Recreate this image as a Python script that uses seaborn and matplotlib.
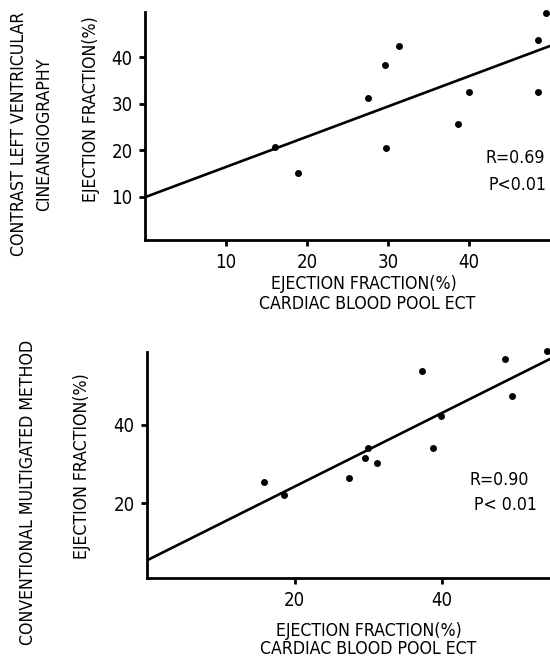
import numpy as np
import pandas as pd
import matplotlib
matplotlib.use("Agg")
import matplotlib.pyplot as plt
from matplotlib import font_manager as fm
import seaborn as sns

# ---- data ----
top_x = [16.0, 18.9, 27.5, 29.6, 31.4, 29.8, 38.7, 40.0, 48.5, 48.5, 49.5]
top_y = [20.6, 15.2, 31.2, 38.4, 42.4, 20.5, 25.7, 32.4, 43.6, 32.6, 49.5]
top_intercept = 9.9
top_slope = 0.65
top_xticks = [10, 20, 30, 40]
top_yticks = [10, 20, 30, 40]
top_stats = ["R=0.69", "P<0.01"]

bot_x = [15.8, 18.6, 27.4, 29.5, 29.9, 31.1, 37.2, 38.7, 39.8, 48.5, 49.4, 54.2]
bot_y = [25.4, 22.1, 26.4, 31.5, 34.1, 30.3, 53.6, 34.1, 42.3, 56.6, 47.4, 58.8]
bot_intercept = 5.4
bot_slope = 0.94
bot_xticks = [20, 40]
bot_yticks = [20, 40]
bot_stats = ["R=0.90", "P< 0.01"]

axis_label = "EJECTION FRACTION(%)"
x_label2 = "CARDIAC BLOOD POOL ECT"
top_group = ["CONTRAST LEFT VENTRICULAR", "CINEANGIOGRAPHY"]
bot_group = "CONVENTIONAL MULTIGATED METHOD"

sns.set_theme(style="ticks")
plt.rcParams['font.family'] = ['DejaVu Sans']

# look for a condensed / narrow face
def _is_regular(f):
    w = f.weight
    try:
        w = int(w)
    except Exception:
        w = 400 if str(w).lower() in ("normal", "regular", "book") else 700
    return f.style == "normal" and 300 <= w <= 500

cands = []
for f in fm.fontManager.ttflist:
    key = (f.name + " " + f.fname).lower()
    if ("narrow" in key or "condensed" in key) and _is_regular(f) \
            and "mono" not in key and "serif" not in f.name.lower().replace("sans", ""):
        cands.append(f)
if cands:
    cands.sort(key=lambda f: (0 if "sans" in f.name.lower() else 1, f.name))
    base_fp = fm.FontProperties(fname=cands[0].fname)
else:
    base_fp = fm.FontProperties(family="DejaVu Sans")

W, H = 550, 663
fig = plt.figure(figsize=(W / 100, H / 100), dpi=100)
renderer = fig.canvas.get_renderer()

def fx(px):
    return px / W

def fy(py):
    return 1 - py / H

# one common text size, chosen so the axis label spans ~186 px
probe = base_fp.copy(); probe.set_size(13)
tt = fig.text(0, 0, axis_label, fontproperties=probe)
FS = 13 * 186 / tt.get_window_extent(renderer).width
tt.remove()

def fp_sized(size):
    p = base_fp.copy(); p.set_size(size)
    return p

def put(px, py, s, rotation=0, ha="center"):
    return fig.text(fx(px), fy(py), s, rotation=rotation, ha=ha, va="center",
                    fontproperties=fp_sized(FS), color="black")

ax1 = fig.add_axes([fx(145), fy(240), fx(550 - 145), (240 - 12) / H])
ax2 = fig.add_axes([fx(147), fy(578), fx(550 - 147), (578 - 352) / H])

def style(ax, xs, ys, b0, b1, xlim, ylim, xticks, yticks):
    df = pd.DataFrame({"x": xs, "y": ys})
    sns.scatterplot(data=df, x="x", y="y", ax=ax, color="black", s=25,
                    edgecolor="black", linewidth=0, zorder=3, clip_on=False)
    ax.axline((0, b0), slope=b1, color="black", lw=1.9, zorder=2)
    ax.set_xlim(*xlim)
    ax.set_ylim(*ylim)
    ax.set_xticks(xticks)
    ax.set_yticks(yticks)
    ax.set_xlabel("")
    ax.set_ylabel("")
    for s in ["top", "right"]:
        ax.spines[s].set_visible(False)
    for s in ["left", "bottom"]:
        ax.spines[s].set_linewidth(2.0)
        ax.spines[s].set_color("black")
    ax.tick_params(axis="both", direction="out", length=4, width=2,
                   colors="black", pad=5)
    tfp = fp_sized(FS * 1.05)
    for lab in ax.get_xticklabels() + ax.get_yticklabels():
        lab.set_fontproperties(tfp)

style(ax1, top_x, top_y, top_intercept, top_slope, (0, 50), (0.7, 49.7),
      top_xticks, top_yticks)
style(ax2, bot_x, bot_y, bot_intercept, bot_slope, (0, 54.6), (0.9, 58.5),
      bot_xticks, bot_yticks)

# stats text
put(545, 158, top_stats[0], ha="right")
put(547, 185, top_stats[1], ha="right")
put(529, 480, bot_stats[0], ha="right")
put(537, 505, bot_stats[1], ha="right")

# x labels
put(364, 284, axis_label)
put(367, 304, x_label2)
put(369, 631, axis_label)
put(368, 649, x_label2)

# y labels
put(91, 109, axis_label, rotation=90)
put(19, 134, top_group[0], rotation=90)
put(44, 134, top_group[1], rotation=90)
put(82, 466, axis_label, rotation=90)
put(28, 492, bot_group, rotation=90)

fig.savefig("out.png", dpi=100, facecolor="white")
